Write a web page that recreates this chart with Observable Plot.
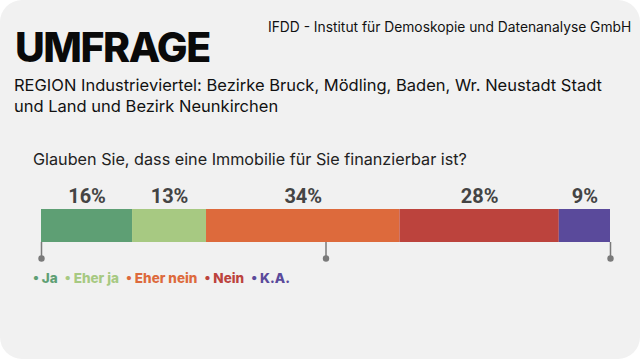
<!DOCTYPE html>
<html><head><meta charset="utf-8">
<script src="https://cdn.jsdelivr.net/npm/d3@7"></script>
<script src="https://cdn.jsdelivr.net/npm/@observablehq/plot@0.6"></script>
<style>
html,body{margin:0;padding:0;background:#fff;}
#card{position:relative;width:640px;height:359px;background:#f1f1f1;border-radius:22px;overflow:hidden;font-family:Inter,"Noto Sans",sans-serif;color:#111;}
.abs{position:absolute;white-space:nowrap;}
#title{left:15px;top:22px;font-size:41px;font-weight:800;letter-spacing:-1.5px;color:#0a0a0a;}
#source{left:268px;top:19px;font-size:13.8px;color:#111;}
#sub{left:14px;top:75px;font-size:16.5px;line-height:21px;color:#111;}
#question{left:33px;top:149px;font-size:16.2px;color:#222;}
#chart{left:0;top:180px;}
#legend{left:33px;top:270px;font-size:13.5px;font-weight:800;}
#legend span{margin-right:7px;}
</style></head>
<body>
<div id="card">
  <div class="abs" id="title">UMFRAGE</div>
  <div class="abs" id="source">IFDD - Institut für Demoskopie und Datenanalyse GmbH</div>
  <div class="abs" id="sub">REGION Industrieviertel: Bezirke Bruck, Mödling, Baden, Wr. Neustadt Stadt<br>und Land und Bezirk Neunkirchen</div>
  <div class="abs" id="question">Glauben Sie, dass eine Immobilie für Sie finanzierbar ist?</div>
  <div class="abs" id="chart"></div>
  <div class="abs" id="legend"></div>
</div>
<script>
const categories = ["Ja", "Eher ja", "Eher nein", "Nein", "K.A."];
const values = [16, 13, 34, 28, 9];
const colors = ["#5e9f74", "#a7c982", "#dd6a3c", "#bc433d", "#5a4a9b"];
const tickValues = [0, 50, 100];

const data = categories.map((c, i) => ({category: c, value: values[i]}));

const plot = Plot.plot({
  width: 640,
  height: 90,
  marginLeft: 41,
  marginRight: 30,
  marginTop: 29,
  marginBottom: 28,
  style: {background: "transparent", overflow: "visible"},
  x: {domain: [0, 100], label: null},
  color: {domain: categories, range: colors},
  marks: [
    Plot.axisX({ticks: tickValues, tickSize: 16, tickFormat: () => "", label: null, stroke: "#7a7a7a", strokeWidth: 1.5, strokeOpacity: 1}),
    Plot.dot(tickValues, {x: d => d, frameAnchor: "bottom", dy: 16, r: 3.2, fill: "#7a7a7a", stroke: null}),
    Plot.barX(data, Plot.stackX({x: "value", fill: "category", order: null})),
    Plot.text(data, Plot.stackX({x: "value", text: d => d.value + "%", order: null, frameAnchor: "top", lineAnchor: "middle", dy: -13, fontSize: 20, fontWeight: 700, fontFamily: "Roboto", fill: "#444"}))
  ]
});
document.getElementById("chart").appendChild(plot);

const legend = document.getElementById("legend");
categories.forEach((c, i) => {
  const s = document.createElement("span");
  s.style.color = colors[i];
  s.textContent = "• " + c;
  legend.appendChild(s);
});
</script>
</body></html>
